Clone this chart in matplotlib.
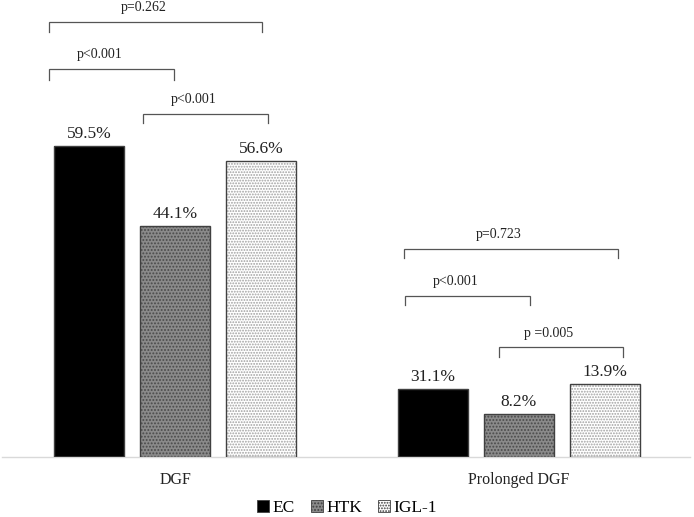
import matplotlib.pyplot as plt
import numpy as np
from matplotlib.patches import Patch

plt.rcParams['font.family'] = ['Liberation Serif', 'DejaVu Serif']
plt.rcParams['hatch.linewidth'] = 0.9

# --- data ---
categories = ['DGF', 'Prolonged DGF']
groups = ['EC', 'HTK', 'IGL-1']
# drawn bar heights (%), as they appear in the picture
heights = {
    'EC': [59.5, 13.0],
    'HTK': [44.1, 8.2],
    'IGL-1': [56.6, 13.9],
}
# printed labels above the bars
bar_labels = {
    'EC': ['59.5%', '31.1%'],
    'HTK': ['44.1%', '8.2%'],
    'IGL-1': ['56.6%', '13.9%'],
}
# significance brackets: (x_left, x_right, y_line, y_tip, text)
brackets = [
    (-0.366, 0.253, 83.2, 81.3, 'p=0.262'),
    (-0.366, -0.003, 74.2, 72.1, 'p<0.001'),
    (-0.093, 0.270, 65.6, 63.9, 'p<0.001'),
    (0.666, 1.288, 39.8, 38.0, 'p=0.723'),
    (0.669, 1.032, 30.8, 29.1, 'p<0.001'),
    (0.942, 1.302, 21.0, 19.1, 'p =0.005'),
]

styles = {
    'EC': dict(fc='black', hatch=None, hc='black'),
    'HTK': dict(fc='#8a8a8a', hatch='.....', hc='#4a4a4a'),
    'IGL-1': dict(fc='white', hatch='......', hc='#a0a0a0'),
}

fig = plt.figure(figsize=(6.94, 5.17), dpi=100)
ax = fig.add_axes([0.003, 60 / 517, 0.991, 457 / 517])

x = np.arange(len(categories))
offsets = [-0.25, 0.0, 0.25]
width = 0.203

for g, off in zip(groups, offsets):
    st = styles[g]
    # fill + hatch
    ax.bar(x + off, heights[g], width, color=st['fc'], edgecolor=st['hc'],
           hatch=st['hatch'], linewidth=0, zorder=2)
    # outline
    ax.bar(x + off, heights[g], width, fill=False, edgecolor='#404040',
           linewidth=1.0, zorder=3)
    for xi, h, lab in zip(x + off, heights[g], bar_labels[g]):
        ax.annotate(lab, (xi, h), xytext=(0, 3), textcoords='offset points',
                    ha='center', va='bottom', fontsize=12.5, color='#222222')

for xl, xr, yl, yt, txt in brackets:
    ax.plot([xl, xl, xr, xr], [yt, yl, yl, yt], color='#555555', lw=0.9,
            solid_joinstyle='miter')
    ax.text((xl + xr) / 2 - 0.035, yl + 2.7, txt, ha='center', va='center',
            fontsize=10, color='#222222')

ax.set_xlim(-0.503, 1.497)
ax.set_ylim(0, 87.4)
ax.set_xticks(x)
ax.set_xticklabels(categories, fontsize=11.5, color='#222222')
ax.tick_params(axis='x', length=0, pad=11)
ax.set_yticks([])
for s in ['top', 'left', 'right']:
    ax.spines[s].set_visible(False)
ax.spines['bottom'].set_color('#d9d9d9')
ax.spines['bottom'].set_linewidth(1.0)

handles = [Patch(facecolor=styles[g]['fc'], edgecolor='#404040',
                 hatch=styles[g]['hatch'], linewidth=0.6) for g in groups]
fig.legend(handles, groups, loc='center', bbox_to_anchor=(0.5, 9 / 517),
           ncol=3, frameon=False, fontsize=12.5, handlelength=0.7,
           handleheight=0.7, handletextpad=0.2, columnspacing=0.9)

fig.savefig('out.png', dpi=100)
